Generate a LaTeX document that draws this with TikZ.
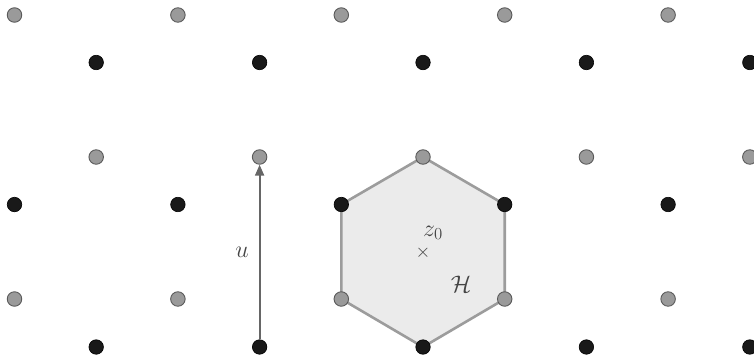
\documentclass[tikz,border=0pt]{standalone}
\usepackage{fix-cm}
\usetikzlibrary{arrows.meta}
\definecolor{dotgray}{HTML}{9A9A9A}
\definecolor{dotedge}{HTML}{5A5A5A}
\definecolor{hexfill}{HTML}{EBEBEB}
\definecolor{hexedge}{HTML}{9C9C9C}
\definecolor{arrowcol}{HTML}{666666}
\definecolor{labcol}{HTML}{444444}
\begin{document}
\begin{tikzpicture}[x=1pt,y=-1pt,
  graydot/.style={circle,fill=dotgray,draw=dotedge,line width=0.9pt,inner sep=0pt,minimum size=14.5pt},
  blackdot/.style={circle,fill=black!90,draw=black,line width=0.6pt,inner sep=0pt,minimum size=14.5pt},
  lab/.style={text=labcol,font=\fontsize{24}{24}\selectfont,inner sep=0pt}]
\useasboundingbox (0,0) rectangle (754,359);
% hexagon
\coordinate (h1) at (423,157);
\coordinate (h2) at (504.7,204.5);
\coordinate (h3) at (504.7,299);
\coordinate (h4) at (423,347);
\coordinate (h5) at (341.3,299);
\coordinate (h6) at (341.3,204.5);
\draw[fill=hexfill,draw=hexedge,line width=2.6pt,line join=round] (h1)--(h2)--(h3)--(h4)--(h5)--(h6)--cycle;
% labels
\node[lab] (z0) at (433,233) {$z_0$};
\node[lab,font=\fontsize{19}{19}\selectfont] (cross) at (423,252.5) {$\times$};
\node[lab] (H) at (461,284) {$\mathcal{H}$};
\node[lab] (u) at (242,252) {$u$};
% dots
\foreach \i/\x in {1/14.5,2/177.9,3/341.3,4/504.7,5/668.1}{
  \node[graydot] (ga\i) at (\x,15) {};
  \node[blackdot] (bb\i) at (\x,204.5) {};
  \node[graydot] (gc\i) at (\x,299) {};
}
\foreach \i/\x in {1/96.2,2/259.6,3/423,4/586.4,5/749.8}{
  \node[blackdot] (ba\i) at (\x,62.5) {};
  \node[graydot] (gb\i) at (\x,157) {};
  \node[blackdot] (bc\i) at (\x,347) {};
}
% arrow
\draw[draw=arrowcol,line width=2pt,-{Triangle[length=11pt,width=9pt]}] (bc2) -- (gb2);
\end{tikzpicture}
\end{document}
